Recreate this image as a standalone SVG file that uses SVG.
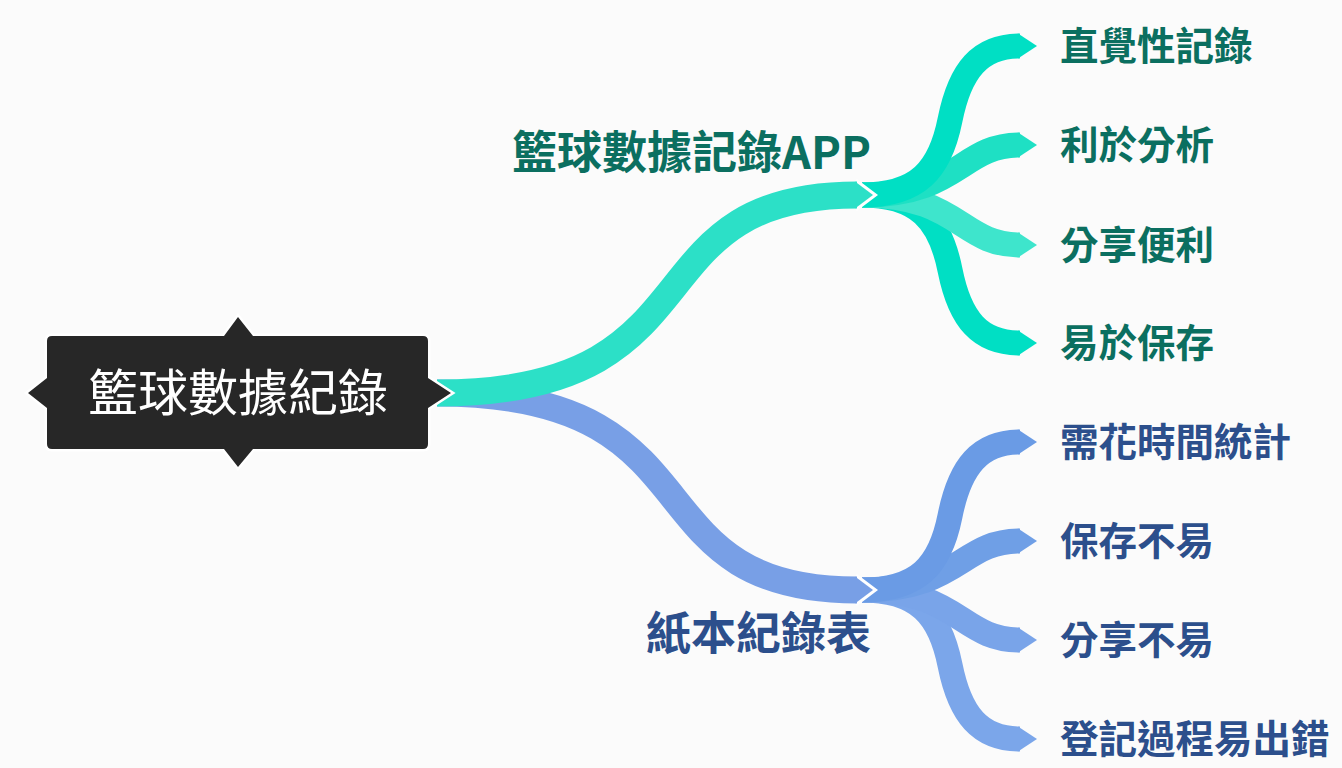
<svg xmlns="http://www.w3.org/2000/svg" width="1342" height="768" viewBox="0 0 1342 768">
<style>
.band{fill:none;stroke-linecap:butt}
.main{stroke-width:27}
.sub{stroke-width:25}
.halo{fill:none;stroke:#ffffff;stroke-width:6;stroke-linejoin:miter}
.lbl{font-family:"Noto Sans CJK TC","Noto Sans CJK SC",sans-serif;font-weight:700}
.t1{font-size:45px}
.t2{font-size:38.5px}
.teal{fill:#0B6F60}
.blue{fill:#2C4F8C}
.root{fill:#272727;stroke:#ffffff;stroke-width:5;paint-order:stroke}
.rootText{font-family:"Noto Sans CJK TC","Noto Sans CJK SC",sans-serif;font-size:50px;fill:#ffffff}
</style>
<rect width="1342" height="768" fill="#FBFBFB"/>
<g id="connectors">
  <!-- blue branch -->
  <path class="band sub" stroke="#7BA6EA" d="M862,590 C918,590 940,615 950,665 C960,715 980,739 1020,739"/>
  <polygon fill="#7BA6EA" points="1018,726.5 1037,739 1018,751.5"/>
  <path class="band sub" stroke="#79A4E9" d="M862,590 C960,590 960,640 1020,640"/>
  <polygon fill="#79A4E9" points="1018,627.5 1037,640 1018,652.5"/>
  <path class="band sub" stroke="#6F9FE6" d="M862,590 C960,590 960,541 1020,541"/>
  <polygon fill="#6F9FE6" points="1018,528.5 1037,541 1018,553.5"/>
  <path class="band sub" stroke="#6A9BE5" d="M862,590 C918,590 940,566 950,516 C960,466 980,442 1020,442"/>
  <polygon fill="#6A9BE5" points="1018,429.5 1037,442 1018,454.5"/>
  <polyline class="halo" points="855,576.5 873,590 855,603.5"/>
  <path class="band main" stroke="#789FE6" d="M437,393 C727,393 624,590 857,590"/>
  <polygon fill="#789FE6" points="855,576.5 873,590 855,603.5"/>
  <!-- teal branch -->
  <path class="band sub" stroke="#00DFC4" d="M862,195 C918,195 940,220 950,270 C960,320 980,343 1020,343"/>
  <polygon fill="#00DFC4" points="1018,330.5 1037,343 1018,355.5"/>
  <path class="band sub" stroke="#3EE5CC" d="M862,195 C960,195 960,245 1020,245"/>
  <polygon fill="#3EE5CC" points="1018,232.5 1037,245 1018,257.5"/>
  <path class="band sub" stroke="#1EE0C4" d="M862,195 C960,195 960,145 1020,145"/>
  <polygon fill="#1EE0C4" points="1018,132.5 1037,145 1018,157.5"/>
  <path class="band sub" stroke="#00DFC4" d="M862,195 C918,195 940,170 950,120 C960,70 980,46 1020,46"/>
  <polygon fill="#00DFC4" points="1018,33.5 1037,46 1018,58.5"/>
  <polyline class="halo" points="855,181.5 873,195 855,208.5"/>
  <path class="band main" stroke="#2CE0C7" d="M437,393 C727,393 624,195 857,195"/>
  <polygon fill="#2CE0C7" points="855,181.5 873,195 855,208.5"/>
</g>
<g id="root">
  <path class="root" d="M52,336 L224,336 L238,317 L253,336 L423,336 Q428,336 428,341 L428,378 L451,393 L428,408 L428,444 Q428,449 423,449 L253,449 L238,467 L224,449 L52,449 Q47,449 47,444 L47,408 L28,393 L47,378 L47,341 Q47,336 52,336 Z"/>
  <text class="rootText" x="238" y="411" text-anchor="middle">籃球數據紀錄</text>
</g>
<g id="app">
  <text class="lbl t1 teal" x="871" y="169" text-anchor="end">籃球數據記錄APP</text>
</g>
<g id="paper">
  <text class="lbl t1 blue" x="871" y="650" text-anchor="end">紙本紀錄表</text>
</g>
<g id="app1"><text class="lbl t2 teal" x="1060" y="60">直覺性記錄</text></g>
<g id="app2"><text class="lbl t2 teal" x="1060" y="159">利於分析</text></g>
<g id="app3"><text class="lbl t2 teal" x="1060" y="259">分享便利</text></g>
<g id="app4"><text class="lbl t2 teal" x="1060" y="357">易於保存</text></g>
<g id="paper1"><text class="lbl t2 blue" x="1060" y="456">需花時間統計</text></g>
<g id="paper2"><text class="lbl t2 blue" x="1060" y="555">保存不易</text></g>
<g id="paper3"><text class="lbl t2 blue" x="1060" y="654">分享不易</text></g>
<g id="paper4"><text class="lbl t2 blue" x="1060" y="753">登記過程易出錯</text></g>
</svg>
